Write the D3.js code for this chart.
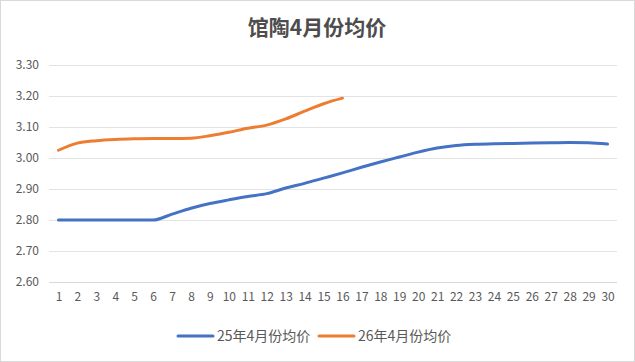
<!DOCTYPE html>
<html><head><meta charset="utf-8">
<script src="https://cdn.jsdelivr.net/npm/d3@7"></script>
<style>
html,body{margin:0;padding:0;background:#fff;}
svg{display:block;}
</style>
</head><body>
<svg id="c" width="635" height="362"></svg>
<script>
const title = "馆陶4月份均价";
const days = d3.range(1, 31).map(String);
const seriesNames = ["25年4月份均价", "26年4月份均价"];
const values25 = [2.800,2.800,2.800,2.800,2.800,2.800,2.819,2.838,2.853,2.865,2.876,2.885,2.903,2.918,2.935,2.952,2.970,2.987,3.003,3.019,3.032,3.040,3.044,3.046,3.047,3.048,3.049,3.050,3.049,3.045];
const values26 = [3.025,3.048,3.056,3.060,3.062,3.063,3.063,3.064,3.072,3.083,3.096,3.106,3.126,3.151,3.175,3.193];
const yTicks = [2.6,2.7,2.8,2.9,3.0,3.1,3.2,3.3];
const colors = ["#4472C4", "#ED7D31"];

const svg = d3.select("#c");
const font = "'Noto Sans CJK SC', 'Noto Sans', sans-serif";

svg.append("rect").attr("x",0.5).attr("y",0.5).attr("width",634).attr("height",361)
  .attr("fill","#fff").attr("stroke","#d9d9d9");

svg.append("text").attr("x",317).attr("y",35).attr("text-anchor","middle")
  .attr("font-family",font).attr("font-size",21).attr("font-weight","bold")
  .attr("fill","#4d4d4d").text(title);

const x = d3.scalePoint().domain(days).range([49, 617]).padding(0.5);
const y = d3.scaleLinear().domain([2.6, 3.3]).range([282, 65]);

// gridlines
svg.append("g").selectAll("line").data(yTicks).join("line")
  .attr("x1",49).attr("x2",617)
  .attr("y1",d=>Math.round(y(d))+0.5).attr("y2",d=>Math.round(y(d))+0.5)
  .attr("stroke",(d,i)=> i===0 ? "#d9d9d9" : "#e3e3e3").attr("stroke-width",1);

// y axis labels
const yAxis = d3.axisLeft(y).tickValues(yTicks).tickFormat(d3.format(".2f")).tickSize(0).tickPadding(0);
const gy = svg.append("g").attr("transform","translate(39,0)").call(yAxis);
gy.select(".domain").remove();
gy.selectAll("text").attr("font-family",font).attr("font-size",12).attr("fill","#595959");

// x axis labels
const xAxis = d3.axisBottom(x).tickSize(0).tickPadding(0);
const gx = svg.append("g").attr("transform","translate(0,292)").call(xAxis);
gx.select(".domain").remove();
gx.selectAll("text").attr("font-family",font).attr("font-size",12).attr("fill","#595959").attr("dy","0.71em");

const line = d3.line().x((d,i)=>x(days[i])).y(d=>y(d)).curve(d3.curveMonotoneX);

[values25, values26].forEach((vals,k)=>{
  svg.append("path").datum(vals).attr("d",line)
    .attr("fill","none").attr("stroke",colors[k]).attr("stroke-width",3)
    .attr("stroke-linecap","round").attr("stroke-linejoin","round");
});

// legend
const legendItems = [{x:178, name:seriesNames[0], c:colors[0]},{x:319, name:seriesNames[1], c:colors[1]}];
legendItems.forEach(it=>{
  svg.append("line").attr("x1",it.x).attr("x2",it.x+35).attr("y1",336).attr("y2",336)
    .attr("stroke",it.c).attr("stroke-width",3).attr("stroke-linecap","round");
  svg.append("text").attr("x",it.x+39).attr("y",341).attr("font-family",font)
    .attr("font-size",14).attr("fill","#595959").text(it.name);
});
</script>
</body></html>
